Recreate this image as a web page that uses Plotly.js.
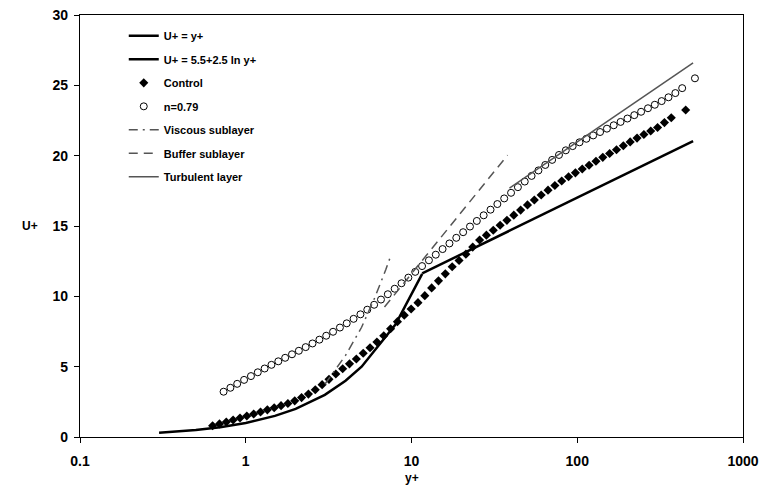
<!DOCTYPE html>
<html>
<head>
<meta charset="utf-8">
<script src="https://cdn.plot.ly/plotly-3.0.1.min.js"></script>
<style>html,body{margin:0;padding:0;background:#fff;}#chart{width:761px;height:488px;}</style>
</head>
<body>
<div id="chart"></div>
<script>
// ---- data ----
const linearY = [0.3, 0.5, 0.7, 1, 1.5, 2, 3, 4, 5, 8, 11.6];
const linearU = [0.3, 0.5, 0.7, 1, 1.5, 2, 3, 4, 5, 8, 11.6];

const logLawY = [11.6, 500];
const logLawU = [11.63, 21.04];

const controlY = [0.631,0.694,0.763,0.839,0.923,1.015,1.116,1.228,1.350,1.485,1.633,1.796,1.975,2.172,2.389,2.627,2.889,3.178,3.495,3.844,4.227,4.649,5.113,5.622,6.184,6.801,7.479,8.225,9.046,9.947,10.94,12.03,13.23,14.55,16.00,17.60,19.36,21.29,23.41,25.75,28.31,31.14,34.25,37.66,41.42,45.55,50.10,55.10,60.59,66.64,73.28,80.59,88.63,97.48,107.2,117.9,129.7,142.6,156.8,172.5,189.7,208.6,229.5,252.4,277.5,305.2,335.7,369.2,451];
const controlU = [0.80,0.93,1.07,1.21,1.35,1.49,1.63,1.78,1.93,2.08,2.23,2.38,2.57,2.80,3.05,3.36,3.72,4.10,4.48,4.85,5.20,5.55,5.95,6.35,6.75,7.2,7.7,8.2,8.65,9.1,9.55,10.05,10.6,11.1,11.6,12.1,12.55,13.0,13.5,14.0,14.35,14.7,15.05,15.4,15.77,16.13,16.5,16.85,17.2,17.55,17.88,18.2,18.5,18.78,19.05,19.32,19.6,19.88,20.15,20.42,20.7,20.98,21.25,21.5,21.75,22.0,22.35,22.7,23.25];

const n079Y = [0.735,0.808,0.888,0.977,1.075,1.182,1.300,1.429,1.572,1.729,1.901,2.091,2.299,2.528,2.781,3.058,3.363,3.699,4.067,4.473,4.920,5.410,5.950,6.544,7.197,7.914,8.704,9.574,10.53,11.58,12.74,14.01,15.40,16.94,18.63,20.49,22.53,24.78,27.25,29.98,32.96,36.25,39.87,43.85,48.22,53.03,58.32,64.14,70.54,77.58,85.31,93.82,103.2,113.5,124.8,137.3,151.0,166.0,182.6,200.8,220.8,242.8,267.1,293.7,323.0,355.2,390.7,429.6,512.9];
const n079U = [3.22,3.5,3.78,4.06,4.33,4.6,4.87,5.13,5.38,5.63,5.88,6.13,6.39,6.65,6.92,7.2,7.48,7.78,8.08,8.4,8.72,9.05,9.4,9.77,10.15,10.54,10.93,11.33,11.74,12.15,12.56,12.96,13.36,13.76,14.16,14.56,14.96,15.36,15.76,16.16,16.56,16.96,17.36,17.76,18.16,18.56,18.95,19.34,19.7,20.05,20.38,20.68,20.95,21.2,21.44,21.68,21.92,22.16,22.4,22.64,22.88,23.12,23.37,23.62,23.88,24.15,24.45,24.8,25.5];

const viscousY = [3, 4, 5, 6, 7, 7.4];
const viscousU = [3.75, 5.8, 7.8, 9.9, 11.9, 12.7];

const bufferY = [6.87, 38];
const bufferU = [9.24, 20.04];

const turbulentY = [39, 500];
const turbulentU = [17.7, 26.6];

const xTickVals = [0.1, 1, 10, 100, 1000];
const xTickText = ['0.1', '1', '10', '100', '1000'];
const yTickVals = [0, 5, 10, 15, 20, 25, 30];

const names = ['U+ = y+', 'U+ = 5.5+2.5 ln y+', 'Control', 'n=0.79', 'Viscous sublayer', 'Buffer sublayer', 'Turbulent layer'];

// ---- traces ----
const FONT = 'Liberation Sans, Arial, sans-serif';
const traces = [
  {x: linearY, y: linearU, name: names[0], mode: 'lines', line: {color: '#000', width: 2.5}, legendgroup: 'g1'},
  {x: logLawY, y: logLawU, name: names[1], mode: 'lines', line: {color: '#000', width: 2.5}, legendgroup: 'g2'},
  {x: controlY, y: controlU, name: names[2], mode: 'markers', marker: {symbol: 'diamond', size: 7, color: '#000'}, legendgroup: 'g3'},
  {x: n079Y, y: n079U, name: names[3], mode: 'markers', marker: {symbol: 'circle-open', size: 7, color: '#000', line: {width: 1, color: '#000'}}, legendgroup: 'g4'},
  {x: viscousY, y: viscousU, name: names[4], mode: 'lines', line: {color: '#555', width: 1.5, dash: '9px,5px,2px,5px'}, legendgroup: 'g5'},
  {x: bufferY, y: bufferU, name: names[5], mode: 'lines', line: {color: '#555', width: 1.5, dash: '9px,6px'}, legendgroup: 'g6'},
  {x: turbulentY, y: turbulentU, name: names[6], mode: 'lines', line: {color: '#555', width: 1.5}, legendgroup: 'g7'}
];

const layout = {
  width: 761, height: 488,
  margin: {l: 80, r: 18, t: 15, b: 51},
  paper_bgcolor: '#fff', plot_bgcolor: '#fff',
  font: {family: FONT, size: 12, color: '#000', weight: 'bold'},
  showlegend: true,
  legend: {x: 0.066, y: 0.985, xanchor: 'left', yanchor: 'top', bgcolor: 'rgba(0,0,0,0)',
           font: {family: FONT, size: 11, color: '#000', weight: 'bold'}, tracegroupgap: 4.5, traceorder: 'grouped'},
  xaxis: {type: 'log', range: [-1, 3], tickmode: 'array', tickvals: xTickVals, ticktext: xTickText,
          showgrid: false, zeroline: false, showline: true, linecolor: '#000', linewidth: 1.2, mirror: true,
          ticks: 'outside', ticklen: 5, tickcolor: '#000', tickwidth: 1, ticklabelstandoff: 6,
          tickfont: {family: FONT, size: 14, color: '#000', weight: 'bold'}},
  yaxis: {range: [0, 30], tickmode: 'array', tickvals: yTickVals,
          showgrid: false, zeroline: false, showline: true, linecolor: '#000', linewidth: 1.2, mirror: true,
          ticks: 'outside', ticklen: 5, tickcolor: '#000', tickwidth: 1, ticklabelstandoff: 3,
          tickfont: {family: FONT, size: 14, color: '#000', weight: 'bold'}},
  annotations: [
    {text: 'U+', xref: 'paper', yref: 'paper', x: -0.075, y: 0.5, xanchor: 'center', yanchor: 'middle', showarrow: false,
     font: {family: FONT, size: 12, color: '#000', weight: 'bold'}},
    {text: 'y+', xref: 'paper', yref: 'paper', x: 0.5, y: -0.097, xanchor: 'center', yanchor: 'middle', showarrow: false,
     font: {family: FONT, size: 12, color: '#000', weight: 'bold'}}
  ]
};

Plotly.newPlot('chart', traces, layout, {displayModeBar: false, staticPlot: true});
</script>
</body>
</html>
